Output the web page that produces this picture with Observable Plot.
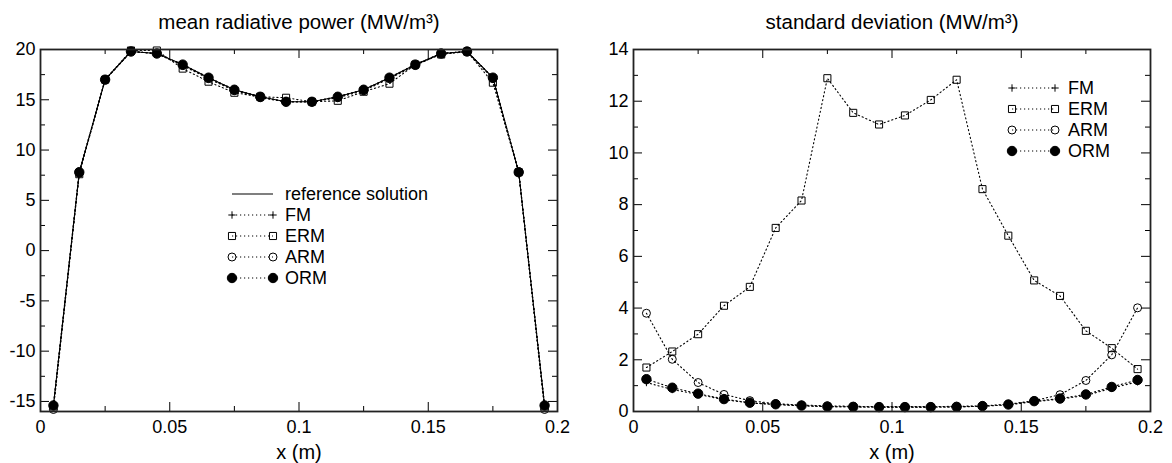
<!DOCTYPE html>
<html><head><meta charset="utf-8">
<script src="https://cdn.jsdelivr.net/npm/d3@7"></script>
<script src="https://cdn.jsdelivr.net/npm/@observablehq/plot@0.6"></script>
<style>
body{margin:0;background:#fff;}
#wrap{position:relative;width:1172px;height:463px;font-family:"Liberation Sans",Arial,Helvetica,sans-serif;}
#left{position:absolute;left:0;top:0;}
#right{position:absolute;left:590px;top:0;}
</style></head><body><div id="wrap"><div id="left"></div><div id="right"></div></div>
<script>
// ---------- data ----------
const xs = [0.005,0.015,0.025,0.035,0.045,0.055,0.065,0.075,0.085,0.095,0.105,0.115,0.125,0.135,0.145,0.155,0.165,0.175,0.185,0.195];

// mean radiative power (MW/m3)
const meanRef = [-15.4,7.8,17.0,19.8,19.6,18.5,17.2,16.0,15.3,14.8,14.8,15.3,16.0,17.2,18.5,19.6,19.8,17.2,7.8,-15.4];
const meanFM  = [-15.4,7.8,17.0,19.8,19.6,18.5,17.2,16.0,15.3,14.8,14.8,15.3,16.0,17.2,18.5,19.6,19.8,17.2,7.8,-15.4];
const meanERM = [-15.5,7.6,17.0,19.9,19.9,18.1,16.8,15.7,15.3,15.2,14.8,14.9,15.8,16.6,18.5,19.5,19.8,16.7,7.8,-15.5];
const meanARM = [-15.8,7.7,17.0,19.8,19.6,18.4,17.1,15.9,15.2,14.8,14.8,15.2,15.9,17.1,18.4,19.6,19.8,17.1,7.8,-15.8];
const meanORM = [-15.4,7.8,17.0,19.8,19.6,18.5,17.2,16.0,15.3,14.8,14.8,15.3,16.0,17.2,18.5,19.6,19.8,17.2,7.8,-15.4];

// standard deviation (MW/m3)
const sdFM  = [1.12,0.85,0.66,0.46,0.33,0.27,0.22,0.19,0.18,0.17,0.17,0.17,0.18,0.20,0.26,0.38,0.48,0.62,0.90,1.15];
const sdERM = [1.70,2.32,2.99,4.09,4.82,7.10,8.16,12.89,11.55,11.10,11.45,12.05,12.83,8.60,6.80,5.07,4.47,3.12,2.45,1.64];
const sdARM = [3.80,2.02,1.12,0.66,0.42,0.30,0.25,0.22,0.20,0.19,0.19,0.19,0.20,0.22,0.28,0.42,0.65,1.20,2.19,4.01];
const sdORM = [1.25,0.92,0.69,0.48,0.34,0.28,0.23,0.19,0.18,0.17,0.17,0.17,0.18,0.21,0.27,0.40,0.50,0.66,0.95,1.22];

// ticks
const xMajor = [0,0.05,0.1,0.15,0.2];
const xMinor = [0.025,0.075,0.125,0.175];
const meanYMajor = [-15,-10,-5,0,5,10,15,20];
const meanYMinor = [-12.5,-7.5,-2.5,2.5,7.5,12.5,17.5];
const sdYMajor = [0,2,4,6,8,10,12,14];
const sdYMinor = [1,3,5,7,9,11,13];

const titles = ["mean radiative power (MW/m³)", "standard deviation (MW/m³)"];
const xLabel = "x (m)";
const seriesNames = ["reference solution","FM","ERM","ARM","ORM"];

// ---------- rendering ----------
const FONT = '"Liberation Sans",Arial,Helvetica,sans-serif';
const H = 463, MT = 49, MB = 52;
const DOT = "1.2,2.8";
const INK = "#000";
const sym = {
  FM:  {symbol:"plus", r:2.5, fill:"none"},
  ERM: {symbol:"square2", r:4.5, fill:"none"},
  ARM: {symbol:"circle", r:4, fill:"none"},
  ORM: {symbol:"circle", r:4.7, fill:INK}
};
const d3sym = {plus:d3.symbolPlus, square2:d3.symbolSquare2, circle:d3.symbolCircle};

function panel({width, ml, mr, yDomain, yMajor, yMinor, series, ref, title}) {
  const rows = xs.map((x,i) => {
    const r = {x};
    if (ref) r.ref = ref[i];
    for (const [k,v] of Object.entries(series)) r[k] = v[i];
    return r;
  });
  const iw = width - ml - mr, ih = H - MT - MB;
  const marks = [
    Plot.ruleX(xMajor, {insetTop: ih - 9, stroke: INK}),
    Plot.ruleX(xMajor, {insetBottom: ih - 9, stroke: INK}),
    Plot.ruleX(xMinor, {insetTop: ih - 5, stroke: INK}),
    Plot.ruleX(xMinor, {insetBottom: ih - 5, stroke: INK}),
    Plot.ruleY(yMajor, {insetRight: iw - 9, stroke: INK}),
    Plot.ruleY(yMajor, {insetLeft: iw - 9, stroke: INK}),
    Plot.ruleY(yMinor, {insetRight: iw - 5, stroke: INK}),
    Plot.ruleY(yMinor, {insetLeft: iw - 5, stroke: INK}),
    Plot.axisX(xMajor, {tickSize: 0, tickPadding: 9, tickFormat: d => String(d), fontSize: 18, label: null}),
    Plot.axisY(yMajor, {tickSize: 0, tickPadding: 5, tickFormat: d => String(d), fontSize: 18, label: null}),
  ];
  if (ref) marks.push(Plot.line(rows, {x: "x", y: "ref", stroke: INK, strokeWidth: 1.1}));
  for (const k of Object.keys(series)) {
    marks.push(Plot.line(rows, {x: "x", y: k, stroke: INK, strokeWidth: 1.1, strokeDasharray: DOT}));
  }
  for (const k of Object.keys(series)) {
    const s = sym[k];
    marks.push(Plot.dot(rows, {x: "x", y: k, symbol: s.symbol, r: s.r, fill: s.fill, stroke: INK, strokeWidth: 1}));
  }
  marks.push(Plot.frame({stroke: "#222", strokeWidth: 1.8}));
  marks.push(Plot.text([title], {frameAnchor: "top", dy: -27, fontSize: 20.5, lineAnchor: "middle", fill: INK}));
  marks.push(Plot.text([xLabel], {frameAnchor: "bottom", dy: 41, fontSize: 20, lineAnchor: "middle", fill: INK}));
  return Plot.plot({
    width, height: H,
    marginLeft: ml, marginRight: mr, marginTop: MT, marginBottom: MB,
    x: {domain: [0, 0.2], axis: null},
    y: {domain: yDomain, axis: null},
    style: {fontFamily: FONT, fontSize: "18px", color: INK, background: "white", overflow: "visible"},
    marks
  });
}

function legend(svg, items, x0, x1, tx, y0, step) {
  const g = d3.select(svg).append("g").attr("font-family", FONT).attr("font-size", 18).attr("fill", INK);
  items.forEach((name, i) => {
    const y = y0 + i * step;
    g.append("line").attr("x1", x0).attr("x2", x1).attr("y1", y).attr("y2", y)
      .attr("stroke", INK).attr("stroke-width", 1.1)
      .attr("stroke-dasharray", name === "reference solution" ? null : DOT);
    const s = sym[name];
    if (s) for (const x of [x0, x1]) {
      g.append("path").attr("transform", `translate(${x},${y})`)
        .attr("d", d3.symbol(d3sym[s.symbol], Math.PI * s.r * s.r)())
        .attr("fill", s.fill).attr("stroke", INK).attr("stroke-width", 1);
    }
    g.append("text").attr("x", tx).attr("y", y).attr("dy", "0.35em")
      .attr("text-anchor", "start").text(name);
  });
}

const left = panel({
  width: 590, ml: 40, mr: 33, yDomain: [-16, 20], yMajor: meanYMajor, yMinor: meanYMinor,
  ref: meanRef, series: {FM: meanFM, ERM: meanERM, ARM: meanARM, ORM: meanORM}, title: titles[0]
});
legend(left, seriesNames, 232, 273, 285, 194, 21);
document.getElementById("left").appendChild(left);

const right = panel({
  width: 582, ml: 43, mr: 22, yDomain: [0, 14], yMajor: sdYMajor, yMinor: sdYMinor,
  ref: null, series: {FM: sdFM, ERM: sdERM, ARM: sdARM, ORM: sdORM}, title: titles[1]
});
legend(right, seriesNames.slice(1), 422, 465, 478, 88, 21);
document.getElementById("right").appendChild(right);
</script>
</body></html>
